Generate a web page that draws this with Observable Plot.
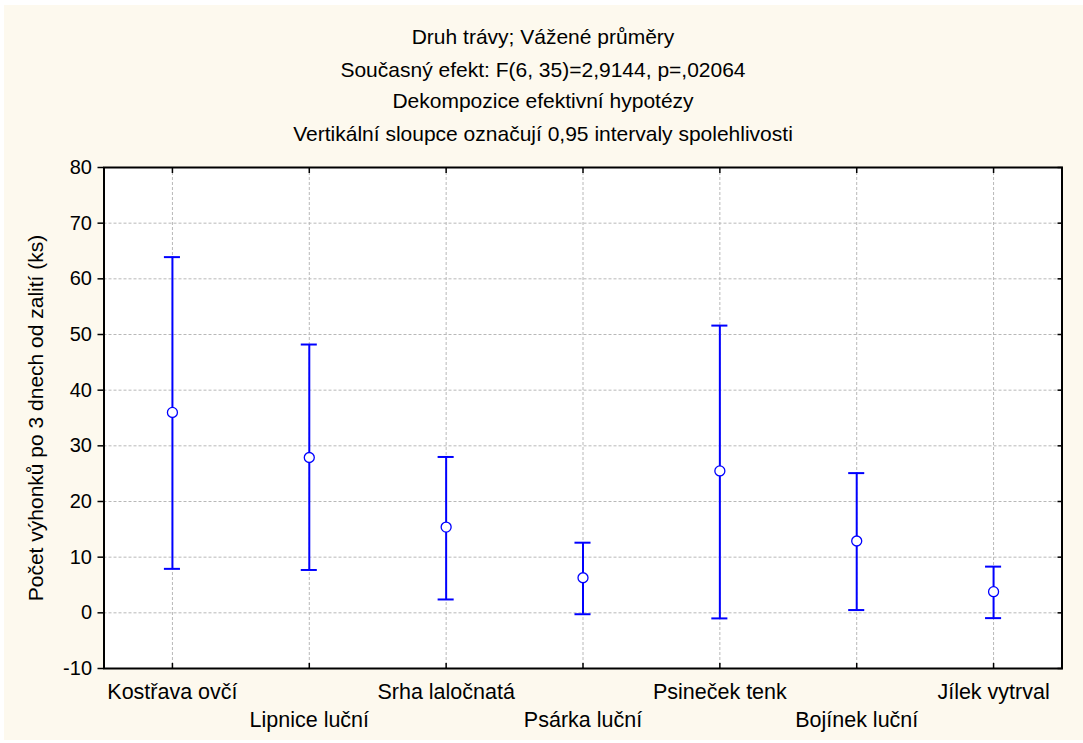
<!DOCTYPE html>
<html>
<head>
<meta charset="utf-8">
<script src="https://cdn.jsdelivr.net/npm/d3@7"></script>
<script src="https://cdn.jsdelivr.net/npm/@observablehq/plot@0.6"></script>
<style>
  html, body { margin: 0; padding: 0; background: #ffffff; }
  #wrap { position: relative; width: 1083px; height: 743px; }
  #paper { position: absolute; left: 4px; top: 5px; width: 1079px; height: 735px; background: #fdf9ee; }
  #chart { position: absolute; left: 0; top: 0; }
</style>
</head>
<body>
<div id="wrap">
  <div id="paper"></div>
  <div id="chart"></div>
</div>
<script>
// Grass species (x categories)
const species = ["Kostřava ovčí", "Lipnice luční", "Srha laločnatá", "Psárka luční",
                 "Psineček tenk", "Bojínek luční", "Jílek vytrval"];
// Weighted means and 95% confidence limits
const means = [36.0, 27.9, 15.4, 6.3, 25.5, 12.9, 3.8];
const lower = [7.9, 7.7, 2.4, -0.25, -1.0, 0.5, -0.95];
const upper = [63.9, 48.2, 28.0, 12.6, 51.6, 25.1, 8.3];
// Axis ticks
const yTicks = [-10, 0, 10, 20, 30, 40, 50, 60, 70, 80];
// Title lines
const titleLines = [
  "Druh trávy; Vážené průměry",
  "Současný efekt: F(6, 35)=2,9144, p=,02064",
  "Dekompozice efektivní hypotézy",
  "Vertikální sloupce označují 0,95 intervaly spolehlivosti"
];
const yLabel = "Počet výhonků po 3 dnech od zalití (ks)";

const rows = species.map((s, i) => ({name: s, mean: means[i], lo: lower[i], hi: upper[i]}));
const oddCats = species.filter((d, i) => i % 2 === 0);
const evenCats = species.filter((d, i) => i % 2 === 1);
const blue = "#0000ff";
// vertical offset of each title line above the plot frame
const titleDy = [-130, -97, -66, -33];

const chart = Plot.plot({
  width: 1083,
  height: 743,
  marginLeft: 103.5,
  marginRight: 21.5,
  marginTop: 167,
  marginBottom: 75,
  style: {background: "transparent", fontFamily: "'Liberation Sans', Arial, sans-serif", fontSize: "20px", color: "#000"},
  x: {type: "band", domain: species, padding: 0, round: false},
  y: {domain: [-10, 80]},
  marks: [
    Plot.frame({fill: "white"}),
    Plot.gridY(yTicks, {stroke: "#b8b8b8", strokeOpacity: 1, strokeDasharray: "3,2"}),
    Plot.gridX(species, {stroke: "#b8b8b8", strokeOpacity: 1, strokeDasharray: "3,2"}),
    // left axis: outward ticks with labels
    Plot.axisY(yTicks, {anchor: "left", tickSize: 6, tickPadding: 6, label: null, fontSize: 20, strokeWidth: 1.5, tickFormat: d => String(d)}),
    // right axis: inward ticks only
    Plot.axisY(yTicks, {anchor: "right", tickSize: 5, dx: -5, text: null, label: null, strokeWidth: 1.5}),
    // top and bottom: inward ticks at categories
    Plot.axisX(species, {anchor: "top", tickSize: 5, dy: 5, text: null, label: null, strokeWidth: 1.5}),
    Plot.axisX(species, {anchor: "bottom", tickSize: 5, dy: -5, text: null, label: null, strokeWidth: 1.5}),
    // staggered category labels
    Plot.axisX(oddCats, {anchor: "bottom", tickSize: 0, tickPadding: 15, label: null, fontSize: 21.5}),
    Plot.axisX(evenCats, {anchor: "bottom", tickSize: 0, tickPadding: 43, label: null, fontSize: 21.5}),
    Plot.frame({stroke: "black", strokeWidth: 2}),
    // confidence intervals
    Plot.ruleX(rows, {x: "name", y1: "lo", y2: "hi", stroke: blue, strokeWidth: 2}),
    Plot.tickY(rows, {x: "name", y: "hi", stroke: blue, strokeWidth: 2, insetLeft: 60.4, insetRight: 60.4}),
    Plot.tickY(rows, {x: "name", y: "lo", stroke: blue, strokeWidth: 2, insetLeft: 60.4, insetRight: 60.4}),
    Plot.dot(rows, {x: "name", y: "mean", r: 5, fill: "white", stroke: blue, strokeWidth: 1.3}),
    // y axis title
    Plot.text([yLabel], {frameAnchor: "left", dx: -68, rotate: -90, text: d => d, fontSize: 21, textAnchor: "middle"}),
    // chart titles, one mark per line
    ...titleLines.map((line, i) =>
      Plot.text([line], {frameAnchor: "top", dx: -40, dy: titleDy[i], text: d => d, fontSize: 21, lineAnchor: "middle"}))
  ]
});
document.getElementById("chart").appendChild(chart);
</script>
</body>
</html>
